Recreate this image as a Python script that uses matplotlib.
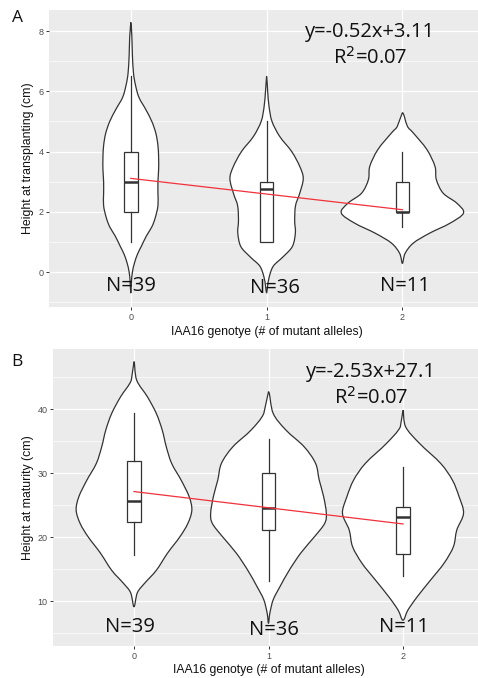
import numpy as np
import matplotlib
matplotlib.use("Agg")
import matplotlib.pyplot as plt
from matplotlib.ticker import FixedLocator
from matplotlib.path import Path
from matplotlib.patches import PathPatch

# genotype groups and sample sizes
groups = [0, 1, 2]
n_labels = ["N=39", "N=36", "N=11"]

# ---- panel A: height at transplanting ----
# violin outlines: heights and half widths (x units)
a_y = [
    [8.29, 7.8, 7.2, 6.6, 6.2, 5.8, 5.4, 5.0, 4.6, 4.2, 3.8, 3.4, 3.0, 2.6,
     2.2, 1.8, 1.5, 1.2, 0.84, 0.6, 0.3, 0.0, -0.3, -0.7],
    [6.5, 6.0, 5.5, 5.0, 4.5, 4.0, 3.5, 3.1, 2.6, 2.2, 1.7, 1.3, 0.85, 0.5,
     0.2, -0.15, -0.45, -0.7],
    [5.29, 4.84, 4.62, 4.07, 3.51, 3.07, 2.62, 2.29, 1.96, 1.62, 1.29, 0.96,
     0.62, 0.29],
]
a_w = [
    [0.0, 0.008, 0.012, 0.02, 0.035, 0.06, 0.11, 0.155, 0.185, 0.2, 0.205,
     0.205, 0.2, 0.2, 0.2, 0.18, 0.155, 0.115, 0.076, 0.05, 0.027, 0.012,
     0.005, 0.0],
    [0.0, 0.008, 0.018, 0.04, 0.097, 0.185, 0.245, 0.27, 0.243, 0.213, 0.207,
     0.212, 0.19, 0.12, 0.05, 0.02, 0.008, 0.0],
    [0.0, 0.037, 0.08, 0.18, 0.24, 0.25, 0.30, 0.40, 0.45, 0.35, 0.20, 0.08,
     0.02, 0.0],
]
# box plot stats
a_q1 = [2.0, 1.0, 2.0]
a_med = [3.0, 2.75, 2.0]
a_q3 = [4.0, 3.0, 3.0]
a_lo = [1.0, 1.0, 1.5]
a_hi = [6.5, 5.0, 4.0]
a_fit = (-0.52, 3.11)
a_eq = ["y=-0.52x+3.11", "R$^2$=0.07"]

# ---- panel B: height at maturity ----
b_y = [
    [47.4, 44.5, 41.9, 39.3, 36.7, 34.1, 31.5, 28.9, 26.3, 24.2, 22.1, 20.0,
     17.5, 14.8, 12.8, 11.3, 9.1],
    [42.7, 39.3, 36.7, 34.1, 31.5, 28.9, 26.3, 23.7, 22.1, 20.0, 17.5, 14.8,
     12.2, 10.2, 8.1, 6.5],
    [39.8, 37.2, 34.6, 31.5, 28.9, 26.3, 23.7, 21.1, 18.5, 15.9, 13.3, 10.7,
     8.6, 7.0],
]
b_w = [
    [0.0, 0.02, 0.1, 0.166, 0.21, 0.24, 0.28, 0.35, 0.41, 0.43, 0.40, 0.34,
     0.25, 0.166, 0.08, 0.025, 0.0],
    [0.0, 0.035, 0.13, 0.265, 0.35, 0.377, 0.41, 0.43, 0.417, 0.34, 0.24,
     0.154, 0.084, 0.035, 0.01, 0.0],
    [0.0, 0.02, 0.124, 0.28, 0.367, 0.417, 0.45, 0.40, 0.375, 0.305, 0.206,
     0.107, 0.037, 0.0],
]
b_q1 = [22.4, 21.1, 17.3]
b_med = [25.6, 24.6, 23.2]
b_q3 = [31.9, 30.0, 24.7]
b_lo = [17.2, 13.1, 13.9]
b_hi = [39.3, 35.3, 31.0]
b_fit = (-2.53, 27.1)
b_eq = ["y=-2.53x+27.1", "R$^2$=0.07"]

W, H = 478, 678
fig = plt.figure(figsize=(W / 100, H / 100), dpi=100)

edge = "#333333"
big_font = "Open Sans"
lab_font = "Liberation Sans"


def smooth_outline(x, y):
    # closed path through the outline points, drawn as Catmull-Rom curves
    pts = np.column_stack([x, y])
    n = len(pts)
    verts = [pts[0]]
    codes = [Path.MOVETO]
    for i in range(n - 1):
        p0 = pts[(i - 1) % n]
        p1 = pts[i]
        p2 = pts[i + 1]
        p3 = pts[(i + 2) % n]
        verts += [p1 + (p2 - p0) / 6, p2 - (p3 - p1) / 6, p2]
        codes += [Path.CURVE4] * 3
    verts.append(pts[0])
    codes.append(Path.CLOSEPOLY)
    return Path(verts, codes)


def panel(ax, vy, vw, q1, med, q3, lo, hi, fit, eq, eq_y, n_y, n_dx,
          ylim, major, minor, ylabel):
    ax.set_facecolor("#EBEBEB")
    for s in ax.spines.values():
        s.set_visible(False)
    ax.set_xlim(-0.6, 2.6)
    ax.set_ylim(*ylim)
    ax.yaxis.set_major_locator(FixedLocator(major))
    ax.yaxis.set_minor_locator(FixedLocator(minor))
    ax.xaxis.set_major_locator(FixedLocator(groups))
    ax.set_xticklabels([str(g) for g in groups])
    ax.grid(True, which="major", color="white", lw=0.9)
    ax.grid(True, which="minor", axis="y", color="white", lw=0.45)
    ax.set_axisbelow(True)
    ax.tick_params(which="major", length=2.2, width=0.7, color=edge,
                   labelcolor="#4D4D4D", labelsize=6.5, pad=2)
    ax.tick_params(which="minor", length=0)
    for lab in ax.get_xticklabels() + ax.get_yticklabels():
        lab.set_family(lab_font)

    # violins: right side top->bottom, then left side bottom->top
    for g, y, w in zip(groups, vy, vw):
        y = np.array(y)
        w = np.array(w)
        xs = np.concatenate([g + w, (g - w)[::-1][1:-1]])
        ys = np.concatenate([y, y[::-1][1:-1]])
        ax.add_patch(PathPatch(smooth_outline(xs, ys), facecolor="white",
                               edgecolor=edge, lw=0.9, zorder=2))

    # boxes
    stats = []
    for i in range(3):
        stats.append(dict(q1=q1[i], med=med[i], q3=q3[i],
                          whislo=lo[i], whishi=hi[i], fliers=[]))
    ax.bxp(stats, positions=groups, widths=0.1, showfliers=False,
           showcaps=False, patch_artist=True, manage_ticks=False,
           boxprops=dict(facecolor="white", edgecolor=edge, lw=0.9),
           medianprops=dict(color=edge, lw=1.8),
           whiskerprops=dict(color=edge, lw=0.9), zorder=3)

    # fitted line
    xs = np.array([groups[0], groups[-1]])
    ax.plot(xs, fit[0] * xs + fit[1], color="#F2313A", lw=0.9, zorder=4)

    # annotations
    ax.text(1.76, eq_y[0], eq[0], ha="center", va="center",
            family=big_font, fontsize=14.5, color="#111111", zorder=5)
    ax.text(1.76, eq_y[1], eq[1], ha="center", va="center",
            family=big_font, fontsize=14.5, color="#111111", zorder=5)
    for g, t, ny, dx in zip(groups, n_labels, n_y, n_dx):
        ax.text(g + dx, ny, t, ha="center", va="center", family=big_font,
                fontsize=14.5, color="#111111", zorder=5)

    ax.set_xlabel("IAA16 genotye (# of mutant alleles)", family=lab_font,
                  fontsize=8.8, color="#111111")
    ax.set_ylabel(ylabel, family=lab_font, fontsize=8.8, color="#111111")


# panel A geometry (pixels)
axA = fig.add_axes([49.3 / W, 1 - 306.7 / H, 3.2 * 135.8 / W, 296.7 / H])
panel(axA, a_y, a_w, a_q1, a_med, a_q3, a_lo, a_hi, a_fit, a_eq,
      (7.97, 7.11), (-0.465, -0.54, -0.465), (0.0, 0.06, 0.02),
      (-1.15, 8.70), [0, 2, 4, 6, 8], [-1, 1, 3, 5, 7],
      "Height at transplanting (cm)")
axA.xaxis.set_label_coords(0.5, -19.5 / 296.7)
axA.yaxis.set_label_coords(-15.5 / 434.6, 0.5)

axB = fig.add_axes([53.3 / W, 1 - 646.0 / H, 3.2 * 134.5 / W, 296.7 / H])
panel(axB, b_y, b_w, b_q1, b_med, b_q3, b_lo, b_hi, b_fit, b_eq,
      (45.8, 41.7), (5.89, 5.47, 5.89), (-0.03, 0.04, 0.01),
      (2.97, 49.33), [10, 20, 30, 40], [5, 15, 25, 35, 45],
      "Height at maturity (cm)")
axB.xaxis.set_label_coords(0.5, -18.5 / 296.7)
axB.yaxis.set_label_coords(-19.5 / 430.4, 0.5)

# panel letters
fig.text(18 / W, 1 - 18 / H, "A", ha="center", va="center",
         family=big_font, fontsize=12.5, color="#111111")
fig.text(17 / W, 1 - 362 / H, "B", ha="center", va="center",
         family=big_font, fontsize=12.5, color="#111111")

fig.savefig("out.png", dpi=100)
